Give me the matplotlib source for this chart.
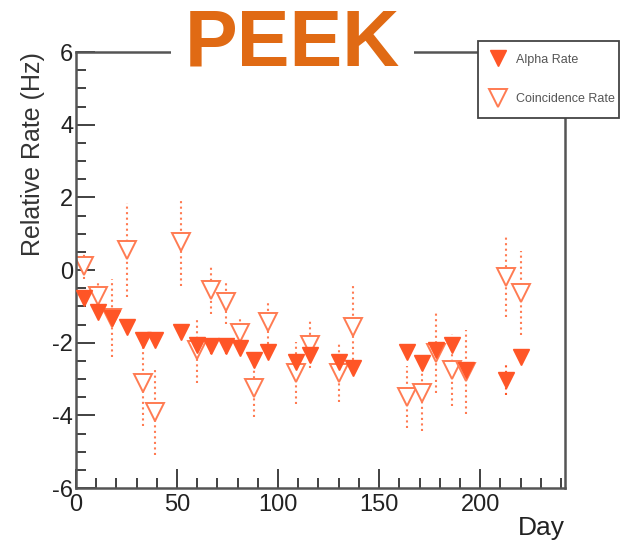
import matplotlib.pyplot as plt
from matplotlib.ticker import MultipleLocator

plt.rcParams["font.family"] = ["Liberation Sans", "DejaVu Sans"]
plt.rcParams["axes.unicode_minus"] = False

# Measurement days
days = [4, 11, 18, 25, 33, 39, 52, 60, 67, 74, 81, 88, 95, 109, 116, 130, 137,
        164, 171, 178, 186, 193, 213, 220]

# Alpha rate relative to reference (Hz)
alpha_rate = [-0.77, -1.15, -1.32, -1.57, -1.92, -1.92, -1.70, -2.06, -2.10, -2.10,
              -2.15, -2.47, -2.25, -2.53, -2.33, -2.53, -2.70, -2.25, -2.55, -2.20,
              -2.06, -2.75, -3.02, -2.40]
alpha_err = [0.2, 0.2, 0.2, 0.2, 0.2, 0.2, 0.2, 0.2, 0.2, 0.2, 0.2, 0.2, 0.2,
             0.2, 0.2, 0.2, 0.2, 0.2, 0.2, 0.2, 0.2, 0.2, 0.42, 0.2]

# Coincidence rate relative to reference (Hz)
coinc_rate = [0.12, -0.72, -1.33, 0.55, -3.10, -3.90, 0.77, -2.20, -0.55, -0.88,
              -1.73, -3.25, -1.43, -2.83, -2.06, -2.83, -1.57, -3.49, -3.38, -2.28,
              -2.75, -2.80, -0.20, -0.63]
coinc_err = [0.36, 0.45, 1.07, 1.30, 1.20, 1.20, 1.20, 0.90, 0.65, 0.60,
             0.45, 0.80, 0.60, 0.85, 0.65, 0.80, 1.20, 0.85, 1.05, 1.10,
             1.00, 1.15, 1.10, 1.15]

alpha_color = "#FF5526"
coinc_color = "#FF7B52"
axis_color = "#555555"

fig = plt.figure(figsize=(6.27, 5.42), dpi=100)
ax = fig.add_axes([0.1212, 0.0996, 0.7799, 0.8044])

coinc = ax.errorbar(days, coinc_rate, yerr=coinc_err, fmt="v", ms=13,
                    mfc="white", mec=coinc_color, mew=1.4, ecolor=coinc_color,
                    elinewidth=1.5, label="Coincidence Rate", zorder=2)
alpha = ax.errorbar(days, alpha_rate, yerr=alpha_err, fmt="v", ms=11.5,
                    color=alpha_color, ecolor=alpha_color, elinewidth=1.5,
                    label="Alpha Rate", zorder=3)

# dotted error bars, ROOT style
for cont in (coinc, alpha):
    for coll in cont[2]:
        coll.set_linestyle(":")

ax.set_xlim(0, 242)
ax.set_ylim(-6, 6)
ax.xaxis.set_major_locator(MultipleLocator(50))
ax.xaxis.set_minor_locator(MultipleLocator(10))
ax.yaxis.set_major_locator(MultipleLocator(2))
ax.yaxis.set_minor_locator(MultipleLocator(0.5))
ax.tick_params(which="both", direction="in", top=False, right=False,
               color="#333333", width=1.3, labelsize=17, labelcolor="#222222")
ax.tick_params(which="major", length=14)
ax.tick_params(which="minor", length=7)
ax.tick_params(axis="x", pad=4)
ax.tick_params(axis="y", pad=2)

for side in ["left", "bottom", "top", "right"]:
    ax.spines[side].set_color(axis_color)
    ax.spines[side].set_linewidth(1.8)

ax.set_ylabel("Relative Rate (Hz)", loc="top", fontsize=18, color="#333333",
              labelpad=5)
ax.set_xlabel("Day", loc="right", fontsize=19, color="#222222", labelpad=0)

fig.legend([alpha, coinc], ["Alpha Rate", "Coincidence Rate"],
           loc="upper left",
           bbox_to_anchor=(472 / 627, 1 - 117 / 542, 153 / 627, 82 / 542),
           mode="expand", fontsize=9, labelspacing=2.2, borderpad=1.0,
           handlelength=1.1, handletextpad=0.9, fancybox=False,
           edgecolor="#444444", framealpha=1, labelcolor="#555555")
fig.legends[0].get_frame().set_linewidth(1.3)

fig.text(292.5 / 627, 1 - 45 / 542, "PEEK", ha="center", va="center",
         fontsize=57, fontweight="bold", color="#E06A14",
         bbox=dict(facecolor="white", edgecolor="none", pad=10))

fig.savefig("out.png", dpi=100)
